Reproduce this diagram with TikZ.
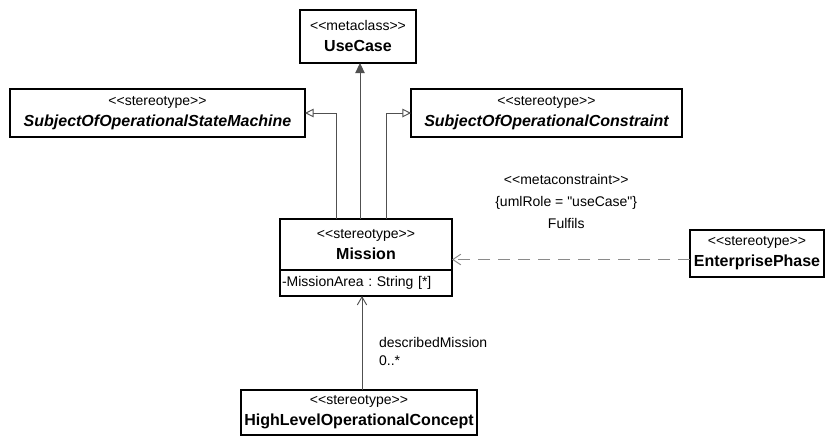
\documentclass[tikz,border=0pt]{standalone}
\usepackage{fontspec}
\setmainfont{Liberation Sans}[Ligatures=TeXOff]
\usepackage{tikz}
\usetikzlibrary{
  arrows.meta,
  positioning,
  calc
}
\frenchspacing
\definecolor{linegray}{HTML}{505050}
\definecolor{dashgray}{HTML}{8A8A8A}
\newcommand{\umlstereo}[1]{<<#1>>}
\newcommand{\umlname}[1]{{\fontsize{12}{15.75}\selectfont\bfseries #1}}
\tikzset{
  umlclass/.style={
    rectangle, draw, line width=0.9pt, fill=white,
    align=center, inner sep=1pt, outer sep=0pt,
    font=\fontsize{10.5}{15.75}\selectfont
  },
  attrbox/.style={
    rectangle, draw, line width=0.9pt, fill=white,
    align=left, inner xsep=1.5pt, inner ysep=1pt, outer sep=0pt,
    text width=126pt, minimum height=19.5pt,
    font=\fontsize{10.5}{13}\selectfont
  },
  extends/.style={-{Triangle[length=7.5pt, width=7pt]}, linegray, line width=0.7pt},
  generalizes/.style={-{Triangle[open, length=6.5pt, width=6.5pt, fill=white]}, linegray, line width=0.7pt},
  depends/.style={-{Straight Barb[length=6pt, width=8pt]}, dashgray, line width=0.7pt, dash pattern=on 9pt off 6pt},
  assoc/.style={-{Straight Barb[length=6pt, width=7pt]}, linegray, line width=0.7pt},
  edgelabel/.style={inner sep=0pt, text=black, font=\fontsize{10.5}{16.5}\selectfont}
}

\begin{document}
\begin{tikzpicture}[x=0.75pt, y=-0.75pt]

\fill[white] (0,0) rectangle (828,437);
\useasboundingbox (0,0) rectangle (828,437);

% Metaclass
\node[umlclass, minimum width=87pt, minimum height=39.75pt] (usecase) at (358,36.5)
  {\umlstereo{metaclass}\\\umlname{UseCase}};

% Stereotypes on top row
\node[umlclass, minimum width=221.25pt, minimum height=36pt] (smachine) at (157.5,113)
  {\umlstereo{stereotype}\\\umlname{\itshape SubjectOfOperationalStateMachine}};
\node[umlclass, minimum width=203.25pt, minimum height=36pt] (sconstr) at (546.5,113)
  {\umlstereo{stereotype}\\\umlname{\itshape SubjectOfOperationalConstraint}};

% Mission with its attribute
\node[umlclass, minimum width=129pt, minimum height=38.25pt] (mission) at (366,244.5)
  {\umlstereo{stereotype}\\\umlname{Mission}};
\node[attrbox, below=0pt of mission] (missionattr) {-MissionArea : String [*]};

% Right and bottom
\node[umlclass, minimum width=100.5pt, minimum height=35.25pt] (enterprise) at (757,253.5)
  {\umlstereo{stereotype}\\\umlname{EnterprisePhase}};
\node[umlclass, minimum width=177pt, minimum height=33.75pt] (hloc) at (359,412.5)
  {\umlstereo{stereotype}\\\umlname{HighLevelOperationalConcept}};

% Extension and generalizations
\draw[extends] ([xshift=-4.5pt]mission.north) -- ([xshift=-4.5pt]mission.north |- usecase.south);
\draw[generalizes] ([xshift=-22.5pt]mission.north) |- (smachine.east);
\draw[generalizes] ([xshift=15pt]mission.north) |- (sconstr.west);

% Fulfils dependency
\coordinate (epin) at ([yshift=-4.5pt]enterprise.west);
\draw[depends] (epin) -- node[edgelabel, pos=0.52, above=23pt, align=center] (fulfils)
  {\umlstereo{metaconstraint}\\\{umlRole = "useCase"\}\\Fulfils} (epin -| mission.east);

% Association
\draw[assoc] ([xshift=2.25pt]hloc.north) -- node[edgelabel, pos=0.415, right=12.5pt, align=left,
    font=\fontsize{10.5}{13.5}\selectfont] (rolename)
  {describedMission\\0..*} ([xshift=2.25pt]hloc.north |- missionattr.south);

\end{tikzpicture}
\end{document}
